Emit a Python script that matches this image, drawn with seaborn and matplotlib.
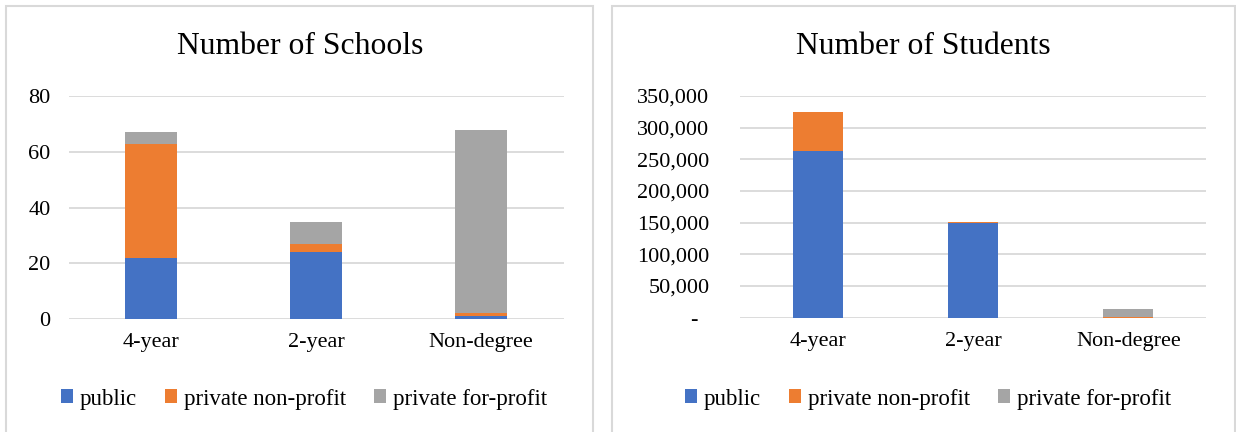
import matplotlib
matplotlib.use("Agg")
import matplotlib.pyplot as plt
from matplotlib.patches import Patch, Rectangle
from matplotlib.ticker import FuncFormatter, MultipleLocator
import numpy as np
import pandas as pd
import seaborn as sns

categories = ["4-year", "2-year", "Non-degree"]
series_names = ["public", "private non-profit", "private for-profit"]

schools_public = [22, 24, 1]
schools_nonprofit = [41, 3, 1]
schools_forprofit = [4, 8, 66]

students_public = [263000, 149000, 300]
students_nonprofit = [62000, 1500, 500]
students_forprofit = [0, 0, 13200]

colors = ["#4472C4", "#ED7D31", "#A5A5A5"]

sns.set_theme(style="white")
plt.rcParams["font.family"] = ["Liberation Serif", "DejaVu Serif"]
plt.rcParams["text.color"] = "#000000"

W, H = 1236, 432
fig = plt.figure(figsize=(W / 100, H / 100), dpi=100)

# panel borders
for x0, x1 in [(6, 593), (612, 1235)]:
    fig.patches.append(Rectangle((x0 / W, -0.05), (x1 - x0) / W, 1.05 - 6 / H,
                                 transform=fig.transFigure, fill=False,
                                 edgecolor="#d9d9d9", linewidth=1.5))


def stacked(ax, pub, nonp, forp, width):
    pub = np.array(pub, float)
    nonp = np.array(nonp, float)
    forp = np.array(forp, float)
    layers = [pub + nonp + forp, pub + nonp, pub]
    for vals, c in zip(layers, colors[::-1]):
        df = pd.DataFrame({"cat": categories, "val": vals})
        sns.barplot(data=df, x="cat", y="val", order=categories, color=c,
                    saturation=1, width=width, ax=ax, linewidth=0)


def style(ax, ymax, step, ypad):
    ax.set_xlim(-0.5, 2.5)
    ax.set_ylim(0, ymax)
    ax.yaxis.set_major_locator(MultipleLocator(step))
    ax.grid(axis="y", color="#d9d9d9", linewidth=1.3)
    ax.set_axisbelow(True)
    for s in ax.spines.values():
        s.set_visible(False)
    ax.set_xlabel("")
    ax.set_ylabel("")
    ax.tick_params(axis="x", length=0, pad=10, labelsize=16, colors="#000000")
    ax.tick_params(axis="y", length=0, pad=ypad, labelsize=16, colors="#000000")


ax1 = fig.add_axes([68.5 / W, 1 - 319 / H, 495 / W, (319 - 96.2) / H])
stacked(ax1, schools_public, schools_nonprofit, schools_forprofit, 0.31)
style(ax1, 80, 20, 13)
fig.text(300 / W, 1 - 46 / H, "Number of Schools", fontsize=22.8, ha="center",
         va="center", color="#000000")

ax2 = fig.add_axes([740 / W, 1 - 317.7 / H, 466 / W, (317.7 - 96) / H])
stacked(ax2, students_public, students_nonprofit, students_forprofit, 0.32)
style(ax2, 350000, 50000, 22)
ax2.yaxis.set_major_formatter(FuncFormatter(lambda v, p: "-  " if v == 0 else f"{int(v):,}"))
fig.text(923 / W, 1 - 46 / H, "Number of Students", fontsize=22.8, ha="center",
         va="center", color="#000000")

handles = [Patch(facecolor=c, edgecolor="none", label=n) for c, n in zip(colors, series_names)]
for cx in (304, 928):
    leg = fig.legend(handles=handles, loc="center", bbox_to_anchor=(cx / W, 1 - 399 / H),
                     ncol=3, frameon=False, fontsize=16.5, handlelength=0.55,
                     handleheight=0.55, handletextpad=0.3, columnspacing=1.2)
    for t in leg.get_texts():
        t.set_color("#000000")

fig.savefig("out.png", dpi=100)
